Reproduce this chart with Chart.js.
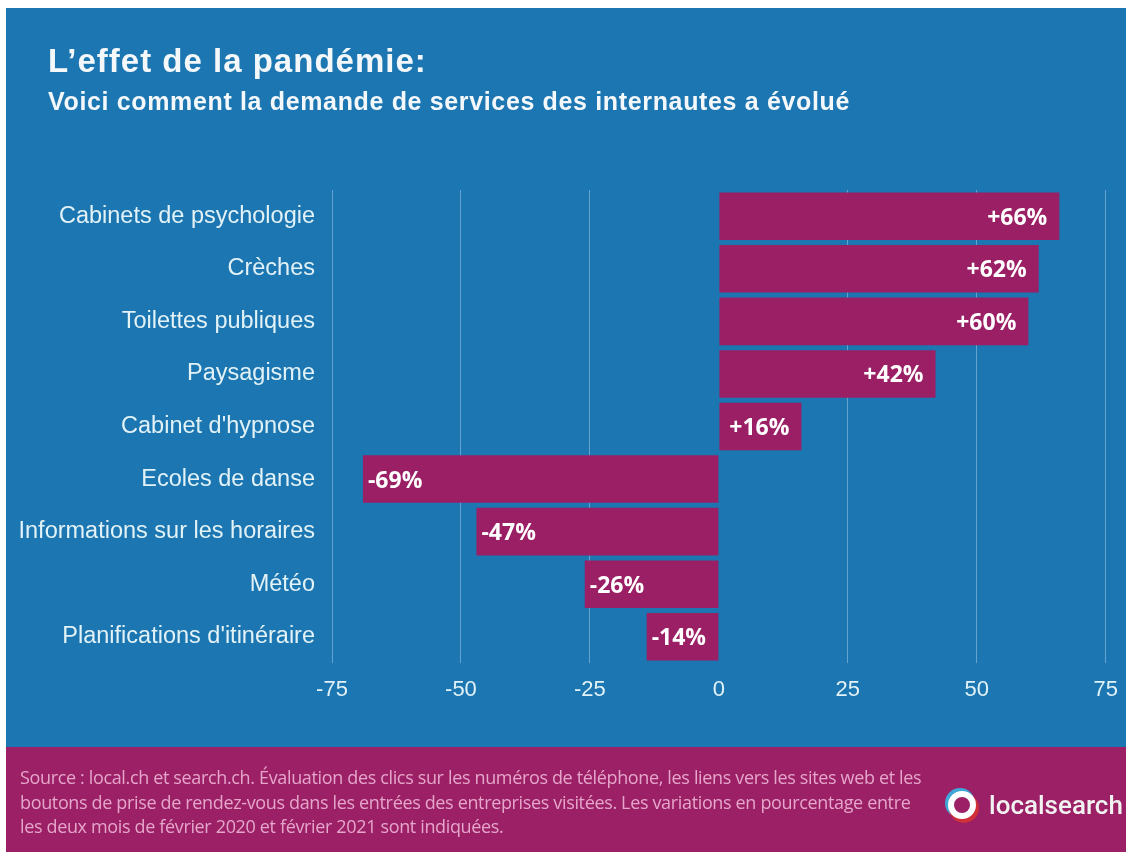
<!DOCTYPE html>
<html lang="fr">
<head>
<meta charset="UTF-8">
<title>L'effet de la pandémie</title>
<style>
  body { margin: 0; width: 1132px; height: 856px; background: #ffffff; position: relative; overflow: hidden; }
  #bg { position: absolute; left: 6px; top: 8px; width: 1120px; height: 739px; background: #1b76b1; }
  #foot { position: absolute; left: 6px; top: 747px; width: 1120px; height: 105px; background: #9b2066; }
  #wrap { position: absolute; left: 0; top: 0; width: 1132px; height: 856px; }
  .title { position: absolute; left: 48px; top: 44px; font: bold 33px/33px "Liberation Sans", Arial, sans-serif; letter-spacing: 1px; color: #f4f8fb; white-space: nowrap; }
  .subtitle { position: absolute; left: 48px; top: 89px; font: bold 25px/25px "Liberation Sans", Arial, sans-serif; letter-spacing: 0.65px; color: #f4f8fb; white-space: nowrap; }
  .note { position: absolute; left: 20px; top: 765px; font: 400 18px/24.5px "Open Sans", sans-serif; letter-spacing: -0.35px; color: #e6a6cb; white-space: nowrap; }
  .logo { position: absolute; left: 948px; top: 790px; height: 30px; display: flex; align-items: center; }
  .logo .ring { width: 16px; height: 16px; border-radius: 50%; border: 6px solid #ffffff; background: #9b2066;
                box-shadow: 2px 3px 0 1px #d0303a, -2px -2px 0 1px #3fa6d8; }
  .logo span { margin-left: 13px; font: 500 26px "Roboto", sans-serif; color: #f2f2f2; }
</style>
</head>
<body>
<div id="bg"></div>
<div id="foot"></div>
<div id="wrap"><canvas id="ctx" width="1132" height="856"></canvas></div>
<div class="title">L’effet de la pandémie:</div>
<div class="subtitle">Voici comment la demande de services des internautes a évolué</div>
<div class="note">Source : local.ch et search.ch. Évaluation des clics sur les numéros de téléphone, les liens vers les sites web et les<br>boutons de prise de rendez-vous dans les entrées des entreprises visitées. Les variations en pourcentage entre<br>les deux mois de février 2020 et février 2021 sont indiquées.</div>
<div class="logo"><div class="ring"></div><span>localsearch</span></div>

<script src="https://cdn.jsdelivr.net/npm/chart.js"></script>
<script>
    // Categories and values (% change Feb 2020 -> Feb 2021)
    const categories = [
        'Cabinets de psychologie',
        'Crèches',
        'Toilettes publiques',
        'Paysagisme',
        "Cabinet d'hypnose",
        'Ecoles de danse',
        'Informations sur les horaires',
        'Météo',
        "Planifications d'itinéraire"
    ];
    const changes = [66, 62, 60, 42, 16, -69, -47, -26, -14];
    const tickValues = [-75, -50, -25, 0, 25, 50, 75];

    const barColor = '#9b1f64';
    const labelColor = '#e2f2f7';

    // draws "+66%" style labels inside the bar ends
    const valueLabels = {
        id: 'valueLabels',
        afterDatasetsDraw(chart) {
            const c = chart.ctx;
            const meta = chart.getDatasetMeta(0);
            c.save();
            c.font = 'bold 23px "Open Sans", sans-serif';
            c.fillStyle = '#ffffff';
            c.textBaseline = 'middle';
            meta.data.forEach((bar, i) => {
                const v = changes[i];
                const txt = (v > 0 ? '+' : '') + v + '%';
                if (v >= 0) {
                    c.textAlign = 'right';
                    c.fillText(txt, bar.x - 12, bar.y + 2);
                } else {
                    c.textAlign = 'left';
                    c.fillText(txt, bar.x + 5, bar.y + 2);
                }
            });
            c.restore();
        }
    };

    const ctx = document.getElementById('ctx').getContext('2d');

    new Chart(ctx, {
        type: 'bar',
        data: {
            labels: categories,
            datasets: [{
                data: changes,
                backgroundColor: barColor,
                borderWidth: 0,
                barPercentage: 0.905,
                categoryPercentage: 1.0
            }]
        },
        options: {
            indexAxis: 'y',
            responsive: false,
            animation: false,
            layout: { padding: { left: 0, right: 22, top: 190, bottom: 143 } },
            plugins: {
                legend: { display: false },
                tooltip: { enabled: false }
            },
            scales: {
                x: {
                    min: -75,
                    max: 75,
                    afterBuildTicks: (scale) => { scale.ticks = tickValues.map(v => ({ value: v })); },
                    afterFit: (scale) => { scale.height = 50; },
                    grid: {
                        color: (c) => c.tick && c.tick.value === 0 ? 'rgba(0,0,0,0)' : 'rgba(190,220,240,0.45)',
                        lineWidth: 1,
                        drawTicks: false
                    },
                    border: { display: false },
                    ticks: {
                        color: labelColor,
                        padding: 14,
                        font: { family: '"Liberation Sans", Arial, sans-serif', size: 22 }
                    }
                },
                y: {
                    afterFit: (scale) => { scale.width = 332; },
                    grid: { display: false, drawTicks: false },
                    border: { display: false },
                    ticks: {
                        color: labelColor,
                        padding: 17,
                        font: { family: '"Liberation Sans", Arial, sans-serif', size: 23.5 }
                    }
                }
            }
        },
        plugins: [valueLabels]
    });
</script>
</body>
</html>
